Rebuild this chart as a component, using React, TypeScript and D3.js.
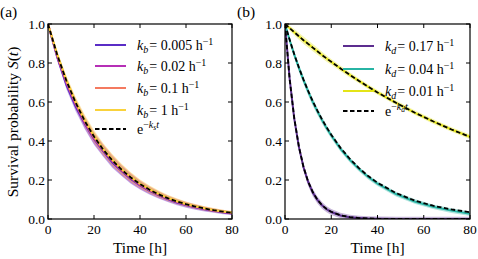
import React, { useEffect } from 'react';
import * as d3 from 'd3';

// panel (a): fixed total rate, varying k_b
const timesA = [0, 4, 8, 12, 16, 20, 24, 28, 32, 36, 40, 44, 48, 52, 56, 60, 64, 68, 72, 76, 80];
const fitA = [1.0, 0.842, 0.709, 0.597, 0.502, 0.423, 0.356, 0.3, 0.253, 0.213, 0.179, 0.151, 0.127, 0.107, 0.09, 0.076, 0.064, 0.054, 0.045, 0.038, 0.032];
const kb005 = [1.0, 0.83, 0.688, 0.578, 0.488, 0.41, 0.348, 0.29, 0.246, 0.205, 0.172, 0.145, 0.122, 0.102, 0.085, 0.071, 0.06, 0.05, 0.042, 0.034, 0.028];
const kb02 = [1.0, 0.834, 0.698, 0.588, 0.494, 0.414, 0.352, 0.296, 0.249, 0.209, 0.175, 0.148, 0.125, 0.105, 0.088, 0.074, 0.062, 0.052, 0.044, 0.036, 0.03];
const kb01 = [1.0, 0.84, 0.706, 0.595, 0.5, 0.42, 0.356, 0.301, 0.253, 0.213, 0.179, 0.151, 0.127, 0.107, 0.09, 0.076, 0.064, 0.054, 0.045, 0.038, 0.032];
const kb1 = [1.0, 0.846, 0.713, 0.601, 0.506, 0.427, 0.36, 0.304, 0.257, 0.216, 0.182, 0.154, 0.13, 0.109, 0.092, 0.077, 0.065, 0.055, 0.046, 0.039, 0.033];
const spreadA = [0, 0.015, 0.022, 0.026, 0.028, 0.029, 0.029, 0.028, 0.026, 0.024, 0.021, 0.019, 0.017, 0.015, 0.014, 0.013, 0.012, 0.011, 0.01, 0.009, 0.008];

// panel (b): varying k_d
const timesB = [0, 2, 4, 6, 8, 10, 12, 14, 16, 18, 20, 24, 28, 32, 36, 40, 48, 56, 64, 72, 80];
const kd017 = [1.0, 0.72, 0.515, 0.37, 0.265, 0.19, 0.136, 0.098, 0.07, 0.05, 0.036, 0.018, 0.009, 0.005, 0.002, 0.001, 0, 0, 0, 0, 0];
const fit017 = [1.0, 0.719, 0.517, 0.372, 0.267, 0.192, 0.138, 0.099, 0.071, 0.051, 0.037, 0.019, 0.01, 0.005, 0.003, 0.001, 0, 0, 0, 0, 0];
const kd004 = [1.0, 0.918, 0.843, 0.775, 0.712, 0.654, 0.6, 0.552, 0.507, 0.466, 0.428, 0.36, 0.304, 0.256, 0.215, 0.181, 0.128, 0.09, 0.063, 0.043, 0.027];
const fit004 = [1.0, 0.92, 0.845, 0.777, 0.715, 0.657, 0.604, 0.556, 0.511, 0.47, 0.432, 0.365, 0.309, 0.261, 0.22, 0.186, 0.133, 0.095, 0.068, 0.049, 0.035];
const kd001 = [1.0, 0.979, 0.958, 0.937, 0.917, 0.898, 0.879, 0.86, 0.841, 0.823, 0.806, 0.772, 0.739, 0.708, 0.678, 0.649, 0.596, 0.546, 0.501, 0.459, 0.421];
const fit001 = [1.0, 0.979, 0.958, 0.937, 0.917, 0.898, 0.879, 0.86, 0.841, 0.823, 0.806, 0.772, 0.739, 0.708, 0.678, 0.649, 0.596, 0.546, 0.501, 0.459, 0.421];
const spreadB = [0, 0.012, 0.016, 0.018, 0.019, 0.019, 0.019, 0.018, 0.017, 0.016, 0.015, 0.014, 0.013, 0.012, 0.012, 0.012, 0.012, 0.012, 0.012, 0.012, 0.012];

const xTicks = [0, 20, 40, 60, 80];
const yTicks = [0, 0.2, 0.4, 0.6, 0.8, 1.0];

const seriesA = [
  { name: '0.005', values: kb005, color: '#5a2dc6' },
  { name: '0.02', values: kb02, color: '#b62fb6' },
  { name: '0.1', values: kb01, color: '#f47a60' },
  { name: '1', values: kb1, color: '#f9d23c' },
];
const seriesB = [
  { name: '0.17', values: kd017, fit: fit017, color: '#5c2d8f' },
  { name: '0.04', values: kd004, fit: fit004, color: '#27b4a4' },
  { name: '0.01', values: kd001, fit: fit001, color: '#e4e418' },
];

const FONT = 'Liberation Serif';
const top = 24;
const bottom = 219;

function Axes({ x, y, label }: any) {
  const [x0, x1] = x.range();
  return (
    <g>
      {xTicks.map((t) => (
        <g key={'x' + t}>
          <line x1={x(t)} x2={x(t)} y1={bottom} y2={bottom - 4} stroke="#000" />
          <line x1={x(t)} x2={x(t)} y1={top} y2={top + 4} stroke="#000" />
          <text x={x(t)} y={bottom + 15} textAnchor="middle" fontFamily={FONT} fontSize={13.5}>{t}</text>
        </g>
      ))}
      {yTicks.map((t) => (
        <g key={'y' + t}>
          <line x1={x0} x2={x0 + 4} y1={y(t)} y2={y(t)} stroke="#000" />
          <line x1={x1} x2={x1 - 4} y1={y(t)} y2={y(t)} stroke="#000" />
          <text x={x0 - 3} y={y(t) + 4.5} textAnchor="end" fontFamily={FONT} fontSize={13.5}>{t.toFixed(1)}</text>
        </g>
      ))}
      <rect x={x0} y={top} width={x1 - x0} height={bottom - top} fill="none" stroke="#000" strokeWidth={1.2} />
      <text x={(x0 + x1) / 2} y={253} textAnchor="middle" fontFamily={FONT} fontSize={15.5}>Time [h]</text>
      <text x={x0 - 48} y={17} fontFamily={FONT} fontSize={15.5}>{label}</text>
    </g>
  );
}

export default function App() {
  useEffect(() => {
    document.body.style.margin = '0';
  }, []);

  const yA = d3.scaleLinear().domain([0, 1]).range([bottom, top]);
  const xA = d3.scaleLinear().domain([0, 80]).range([48, 232]);
  const xB = d3.scaleLinear().domain([0, 80]).range([285, 470]);

  const lineA = d3.line<number>().x((_, i) => xA(timesA[i])).y((d) => yA(d));
  const areaA = (vals: number[]) =>
    d3.area<number>()
      .x((_, i) => xA(timesA[i]))
      .y0((d, i) => yA(Math.max(0, d - spreadA[i])))
      .y1((d, i) => yA(d + spreadA[i]))(vals);
  const lineB = d3.line<number>().x((_, i) => xB(timesB[i])).y((d) => yA(d));
  const areaB = (vals: number[]) =>
    d3.area<number>()
      .x((_, i) => xB(timesB[i]))
      .y0((d, i) => yA(Math.max(0, d - spreadB[i])))
      .y1((d, i) => yA(Math.min(1, d + spreadB[i])))(vals);

  const legA = [45, 66, 88, 110];
  const legB = [46, 69, 91];

  return (
    <svg width={478} height={259} fontFamily={FONT} style={{ position: 'absolute', left: 0, top: 0, background: '#fff' }}>
      <defs>
        <clipPath id="ca"><rect x={48} y={top} width={184} height={bottom - top} /></clipPath>
        <clipPath id="cb"><rect x={285} y={top} width={185} height={bottom - top} /></clipPath>
      </defs>

      {/* panel a */}
      <g clipPath="url(#ca)">
        {seriesA.map((s) => (
          <path key={'ba' + s.name} d={areaA(s.values) || ''} fill={s.color} opacity={0.35} />
        ))}
        {seriesA.map((s) => (
          <path key={'la' + s.name} d={lineA(s.values) || ''} fill="none" stroke={s.color} strokeWidth={2} />
        ))}
        <path d={lineA(fitA) || ''} fill="none" stroke="#000" strokeWidth={1.8} strokeDasharray="4.5,2.5" />
      </g>
      <Axes x={xA} y={yA} label="(a)" />
      <text transform="translate(18,122) rotate(-90)" textAnchor="middle" fontFamily={FONT} fontSize={15.5}>
        Survival probability <tspan fontStyle="italic">S</tspan>(<tspan fontStyle="italic">t</tspan>)
      </text>
      {seriesA.map((s, i) => (
        <g key={'lga' + s.name}>
          <line x1={95} x2={126} y1={legA[i]} y2={legA[i]} stroke={s.color} strokeWidth={2} />
          <text x={137} y={legA[i] + 4.5} fontFamily={FONT} fontSize={14}>
            <tspan fontStyle="italic">k</tspan>
            <tspan fontStyle="italic" fontSize={10} dy={3}>b</tspan>
            <tspan dy={-3} dx={1}>= {s.name} h</tspan>
            <tspan fontSize={10} dy={-5}>−1</tspan>
          </text>
        </g>
      ))}
      <line x1={95} x2={126} y1={129} y2={129} stroke="#000" strokeWidth={1.8} strokeDasharray="4.5,2.5" />
      <text x={137} y={133.5} fontFamily={FONT} fontSize={14}>
        e<tspan fontSize={10} dy={-6}>−</tspan>
        <tspan fontSize={10} fontStyle="italic">k</tspan>
        <tspan fontSize={7.5} fontStyle="italic" dy={2}>s</tspan>
        <tspan fontSize={10} fontStyle="italic" dy={-2}>t</tspan>
      </text>

      {/* panel b */}
      <g clipPath="url(#cb)">
        {seriesB.map((s) => (
          <path key={'bb' + s.name} d={areaB(s.values) || ''} fill={s.color} opacity={0.35} />
        ))}
        {seriesB.map((s) => (
          <path key={'lb' + s.name} d={lineB(s.values) || ''} fill="none" stroke={s.color} strokeWidth={2} />
        ))}
        {seriesB.map((s) => (
          <path key={'fb' + s.name} d={lineB(s.fit) || ''} fill="none" stroke="#000" strokeWidth={1.8} strokeDasharray="4.5,2.5" />
        ))}
      </g>
      <Axes x={xB} y={yA} label="(b)" />
      {seriesB.map((s, i) => (
        <g key={'lgb' + s.name}>
          <line x1={343} x2={374} y1={legB[i]} y2={legB[i]} stroke={s.color} strokeWidth={2} />
          <text x={385} y={legB[i] + 4.5} fontFamily={FONT} fontSize={14}>
            <tspan fontStyle="italic">k</tspan>
            <tspan fontStyle="italic" fontSize={10} dy={3}>d</tspan>
            <tspan dy={-3} dx={1}>= {s.name} h</tspan>
            <tspan fontSize={10} dy={-5}>−1</tspan>
          </text>
        </g>
      ))}
      <line x1={343} x2={374} y1={111} y2={111} stroke="#000" strokeWidth={1.8} strokeDasharray="4.5,2.5" />
      <text x={385} y={115.5} fontFamily={FONT} fontSize={14}>
        e<tspan fontSize={10} dy={-6}>−</tspan>
        <tspan fontSize={10} fontStyle="italic">k</tspan>
        <tspan fontSize={7.5} fontStyle="italic" dy={2}>d</tspan>
        <tspan fontSize={10} fontStyle="italic" dy={-2}>t</tspan>
      </text>
    </svg>
  );
}
